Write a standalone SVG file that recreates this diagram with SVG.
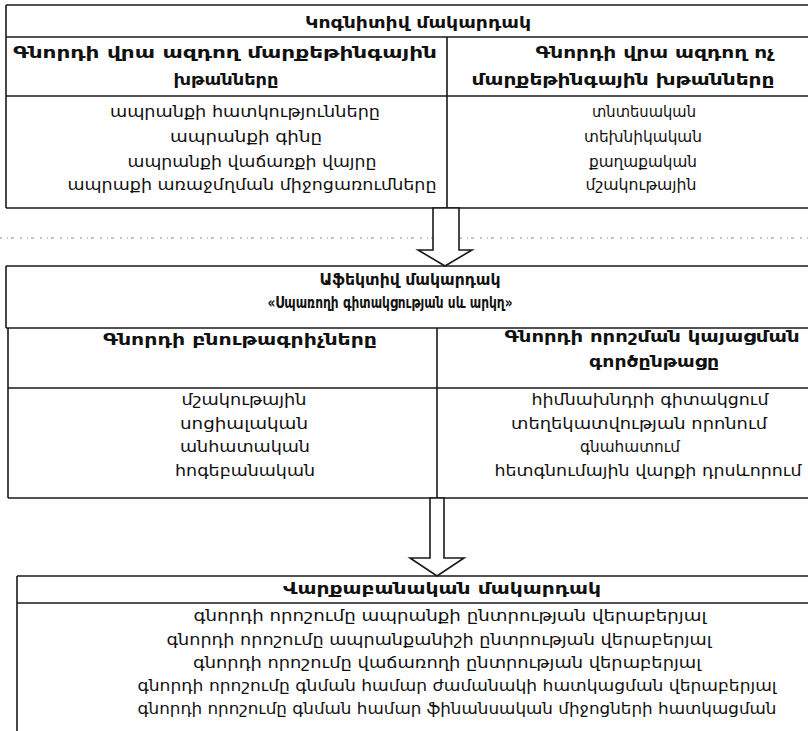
<svg xmlns="http://www.w3.org/2000/svg" width="808" height="731" viewBox="0 0 808 731">
  <style>
    .ln { fill: none; stroke: #1a1a1a; stroke-width: 1.6; }
    .hd { font-family: "DejaVu Sans", "Noto Sans", sans-serif; font-size: 16px; font-weight: bold; fill: #111; text-anchor: middle; }
    .tx { font-family: "DejaVu Sans", "Noto Sans", sans-serif; font-size: 16px; fill: #111; text-anchor: middle; }
    .arrow { fill: #fff; stroke: #1a1a1a; stroke-width: 1.6; stroke-linejoin: miter; }
    .dots { fill: none; stroke: #8a8a8a; stroke-width: 1; stroke-dasharray: 2 5 1 3 3 6; }
  </style>

  <rect width="808" height="731" fill="#fff"/>

  <!-- faint dotted rule between the first two levels -->
  <path class="dots" d="M0,238 H808"/>

  <!-- Level 1: cognitive -->
  <g id="cognitive-level">
    <path class="ln" d="M6,5 H808 M6,37 H808 M6,96 H808 M6,208 H808 M6,5 V208 M447,37 V208"/>
    <text class="hd" x="418" y="28" textLength="226" lengthAdjust="spacingAndGlyphs">Կոգնիտիվ մակարդակ</text>
    <text class="hd" x="225" y="58" textLength="424" lengthAdjust="spacingAndGlyphs">Գնորդի վրա ազդող մարքեթինգային</text>
    <text class="hd" x="226" y="85" textLength="105" lengthAdjust="spacingAndGlyphs">խթանները</text>
    <text class="hd" x="655" y="58" textLength="239" lengthAdjust="spacingAndGlyphs">Գնորդի վրա ազդող ոչ</text>
    <text class="hd" x="623" y="85" textLength="303" lengthAdjust="spacingAndGlyphs">մարքեթինգային խթանները</text>
    <text class="tx" x="245" y="117" textLength="270" lengthAdjust="spacingAndGlyphs">ապրանքի հատկությունները</text>
    <text class="tx" x="246" y="142" textLength="152" lengthAdjust="spacingAndGlyphs">ապրանքի գինը</text>
    <text class="tx" x="252" y="167" textLength="249" lengthAdjust="spacingAndGlyphs">ապրանքի վաճառքի վայրը</text>
    <text class="tx" x="252" y="190" textLength="369" lengthAdjust="spacingAndGlyphs">ապրաքի առաջմղման միջոցառումները</text>
    <text class="tx" x="644" y="117" textLength="104" lengthAdjust="spacingAndGlyphs">տնտեսական</text>
    <text class="tx" x="643" y="142" textLength="118" lengthAdjust="spacingAndGlyphs">տեխնիկական</text>
    <text class="tx" x="643" y="167" textLength="108" lengthAdjust="spacingAndGlyphs">քաղաքական</text>
    <text class="tx" x="641" y="190" textLength="111" lengthAdjust="spacingAndGlyphs">մշակութային</text>
  </g>

  <!-- Level 2: affective -->
  <g id="affective-level">
    <path class="ln" d="M6,266 H808 M6,328 H808 M8,388 H808 M8,498 H808 M6,266 V328 M8,328 V498 M437,328 V498"/>
    <text class="hd" x="410" y="285" textLength="181" lengthAdjust="spacingAndGlyphs">Աֆեկտիվ մակարդակ</text>
    <text class="hd" x="390" y="308" textLength="245" lengthAdjust="spacingAndGlyphs">«Սպառողի գիտակցության սև արկղ»</text>
    <text class="hd" x="240" y="345" textLength="274" lengthAdjust="spacingAndGlyphs">Գնորդի բնութագրիչները</text>
    <text class="hd" x="652" y="342" textLength="295" lengthAdjust="spacingAndGlyphs">Գնորդի որոշման կայացման</text>
    <text class="hd" x="654" y="367" textLength="130" lengthAdjust="spacingAndGlyphs">գործընթացը</text>
    <text class="tx" x="244" y="405" textLength="125" lengthAdjust="spacingAndGlyphs">մշակութային</text>
    <text class="tx" x="244" y="429" textLength="128" lengthAdjust="spacingAndGlyphs">սոցիալական</text>
    <text class="tx" x="245" y="452" textLength="130" lengthAdjust="spacingAndGlyphs">անհատական</text>
    <text class="tx" x="245" y="476" textLength="140" lengthAdjust="spacingAndGlyphs">հոգեբանական</text>
    <text class="tx" x="650" y="405" textLength="237" lengthAdjust="spacingAndGlyphs">հիմնախնդրի գիտակցում</text>
    <text class="tx" x="639" y="429" textLength="256" lengthAdjust="spacingAndGlyphs">տեղեկատվության որոնում</text>
    <text class="tx" x="630" y="452" textLength="100" lengthAdjust="spacingAndGlyphs">գնահատում</text>
    <text class="tx" x="648" y="476" textLength="307" lengthAdjust="spacingAndGlyphs">հետգնումային վարքի դրսևորում</text>
  </g>

  <!-- Level 3: behavioural -->
  <g id="behavioral-level">
    <path class="ln" d="M17,576 H808 M17,603 H808 M17,576 V731"/>
    <text class="hd" x="442" y="594" textLength="318" lengthAdjust="spacingAndGlyphs">Վարքաբանական մակարդակ</text>
    <text class="tx" x="450" y="621" textLength="513" lengthAdjust="spacingAndGlyphs">գնորդի որոշումը ապրանքի ընտրության վերաբերյալ</text>
    <text class="tx" x="439" y="645" textLength="545" lengthAdjust="spacingAndGlyphs">գնորդի որոշումը ապրանքանիշի ընտրության վերաբերյալ</text>
    <text class="tx" x="447" y="668" textLength="508" lengthAdjust="spacingAndGlyphs">գնորդի որոշումը վաճառողի ընտրության վերաբերյալ</text>
    <text class="tx" x="457" y="691" textLength="639" lengthAdjust="spacingAndGlyphs">գնորդի որոշումը գնման համար ժամանակի հատկացման վերաբերյալ</text>
    <text class="tx" x="457" y="714" textLength="639" lengthAdjust="spacingAndGlyphs">գնորդի որոշումը  գնման համար ֆինանսական միջոցների հատկացման</text>
  </g>

  <!-- block arrows between levels -->
  <g id="connectors">
    <polygon class="arrow" points="433,208 433,250 418,250 445,266 472,250 459,250 459,208"/>
    <polygon class="arrow" points="430,498 430,558 410,558 437,576 464,558 444,558 444,498"/>
  </g>
</svg>
